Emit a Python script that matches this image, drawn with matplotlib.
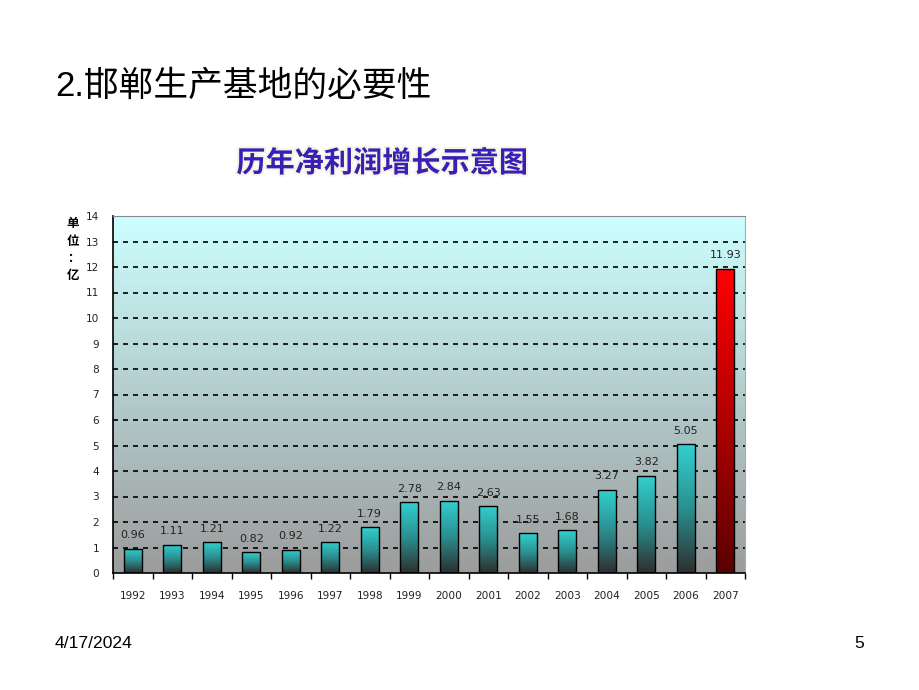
import numpy as np
import matplotlib.pyplot as plt
import matplotlib.patheffects as pe
from matplotlib.colors import LinearSegmentedColormap

plt.rcParams['font.family'] = ['Liberation Sans', 'Noto Sans CJK SC', 'DejaVu Sans']

# 数据
years = ["1992", "1993", "1994", "1995", "1996", "1997", "1998", "1999",
         "2000", "2001", "2002", "2003", "2004", "2005", "2006", "2007"]
profit = [0.96, 1.11, 1.21, 0.82, 0.92, 1.22, 1.79, 2.78,
          2.84, 2.63, 1.55, 1.68, 3.27, 3.82, 5.05, 11.93]
value_labels = ["0.96", "1.11", "1.21", "0.82", "0.92", "1.22", "1.79", "2.78",
                "2.84", "2.63", "1.55", "1.68", "3.27", "3.82", "5.05", "11.93"]
y_ticks = list(range(0, 15))

fig = plt.figure(figsize=(9.2, 6.9), dpi=100)
fig.patch.set_facecolor('white')

# 页面文字
fig.text(55 / 920, 1 - 86 / 690, "2.邯郸生产基地的必要性", fontsize=25,
         va='center', ha='left', color='black')
fig.text(55 / 920, 1 - 644 / 690, "4/17/2024", fontsize=12.6, va='center', ha='left')
fig.text(859 / 920, 1 - 644 / 690, "5", fontsize=12.6, va='center', ha='center')
fig.text(382 / 920, 1 - 163 / 690, "历年净利润增长示意图", fontsize=21,
         fontweight='heavy', color='#3a1fb4', ha='center', va='center',
         family=['Noto Sans CJK SC'],
         path_effects=[pe.withStroke(linewidth=3, foreground='#f4f4e8')])

ax = fig.add_axes([113 / 920, 1 - 573 / 690, 632 / 920, 357 / 690])

# 背景渐变
bg_cmap = LinearSegmentedColormap.from_list("bg", ["#9c9c9c", "#b4cccc", "#ccffff"])
grad = np.linspace(0, 1, 256).reshape(-1, 1)
ax.imshow(grad, extent=[0, 1, 0, 1], transform=ax.transAxes, origin='lower',
          aspect='auto', cmap=bg_cmap, zorder=0)

x = np.arange(len(years))
bars = ax.bar(x, profit, width=0.46, color='none', edgecolor='black',
              linewidth=1.0, zorder=3)

cyan_cmap = LinearSegmentedColormap.from_list("cy", ["#2e2e2e", "#2a8f8f", "#33d0d0"])
red_cmap = LinearSegmentedColormap.from_list("rd", ["#5a0000", "#b00000", "#ff0000"])
for i, b in enumerate(bars):
    x0 = b.get_x()
    x1 = x0 + b.get_width()
    h = b.get_height()
    cmap = red_cmap if i == len(bars) - 1 else cyan_cmap
    im = ax.imshow(grad, extent=[x0, x1, 0, h], origin='lower', aspect='auto',
                   cmap=cmap, zorder=2)
    im.set_clip_path(b)
    ax.annotate(value_labels[i], (b.get_x() + b.get_width() / 2, h),
                xytext=(0, 6), textcoords='offset points', ha='center',
                va='bottom', fontsize=8, family=['DejaVu Sans'], color='#222222',
                zorder=4)

# 网格
for yv in y_ticks[1:-1]:
    ax.axhline(yv, color='black', linestyle=(0, (3, 3)), linewidth=1.2, zorder=1)

ax.set_xlim(-0.5, len(years) - 0.5)
ax.set_ylim(0, 14)
ax.set_yticks(y_ticks)
ax.set_yticklabels([str(v) for v in y_ticks], fontsize=7.6, family=['DejaVu Sans'],
                   color='#222222')
ax.set_xticks(x)
ax.set_xticklabels(years, fontsize=7.6, family=['DejaVu Sans'], color='#222222')
ax.tick_params(axis='x', length=0, pad=13)
ax.set_xticks(np.arange(-0.5, len(years), 1), minor=True)
ax.tick_params(axis='x', which='minor', length=4, direction='out', width=1)
ax.tick_params(axis='y', length=0, pad=10)

ax.spines['left'].set_color('black')
ax.spines['bottom'].set_color('black')
ax.spines['top'].set_color('#888888')
ax.spines['right'].set_color('#aaaaaa')
for s in ['left', 'bottom']:
    ax.spines[s].set_linewidth(1.2)

# 单位
for k, ch in enumerate(["单", "位", "：", "亿"]):
    fig.text(73 / 920, 1 - (224 + k * 17) / 690, ch, fontsize=9, fontweight='bold',
             family=['Noto Sans CJK SC'], ha='center', va='center')

fig.savefig("out.png", dpi=100)
